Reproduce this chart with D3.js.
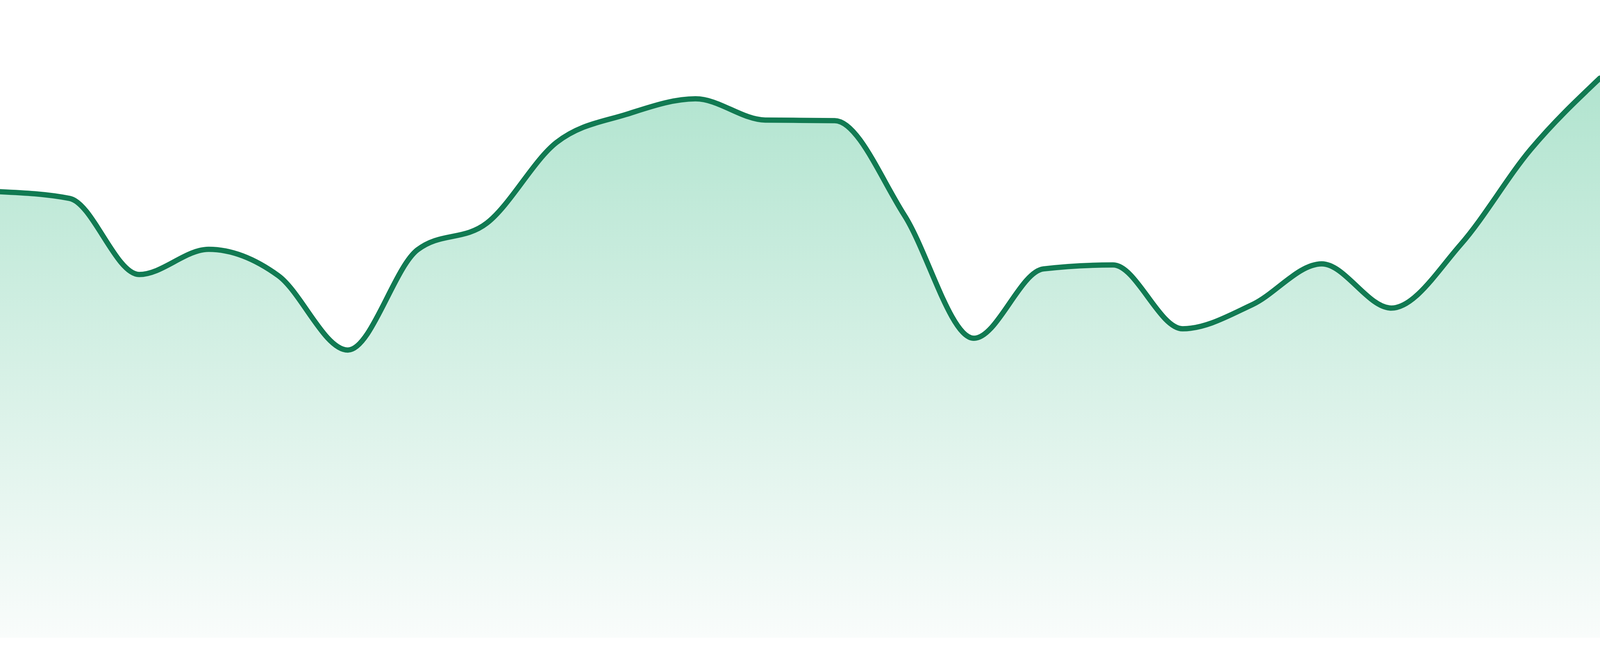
<!DOCTYPE html>
<html>
<head>
<meta charset="utf-8">
<script src="https://cdn.jsdelivr.net/npm/d3@7"></script>
<style>
  html, body { margin: 0; padding: 0; background: #ffffff; overflow: hidden; width: 100%; height: 100%; }
  svg { display: block; position: absolute; left: 0; top: 0; }
</style>
</head>
<body>
<div id="chart"></div>
<script>
// ---- data ----
const categories = d3.range(24).map(i => "P" + (i + 1));
const values = [79.7, 78.5, 64.9, 69.4, 64.7, 51.4, 69.3, 74.1, 88.5, 93.5, 96.3, 92.5,
                92.4, 75.5, 53.5, 65.9, 66.6, 55.2, 59.5, 66.8, 58.9, 70.3, 87.2, 100];
const yDomain = [0, 100];

// ---- layout: design height 1680, width fitted to the viewport ----
const W = window.innerWidth || 4800;
const H = window.innerHeight || 1680;
const ky = H / 1680;
const plotBottom = 1633 * ky, plotTop = 200 * ky;

const svg = d3.select("#chart").append("svg")
  .attr("width", W).attr("height", H);

const x = d3.scalePoint().domain(categories).range([0, W]);
const y = d3.scaleLinear().domain(yDomain).range([plotBottom, plotTop]);

const data = categories.map((c, i) => ({ c, v: values[i] }));

const defs = svg.append("defs");
const grad = defs.append("linearGradient")
  .attr("id", "fillGrad")
  .attr("gradientUnits", "userSpaceOnUse")
  .attr("x1", 0).attr("x2", 0)
  .attr("y1", plotTop).attr("y2", plotBottom);
grad.append("stop").attr("offset", "0%").attr("stop-color", "#b1e4cf");
grad.append("stop").attr("offset", "100%").attr("stop-color", "#f9fcfb");

const area = d3.area()
  .curve(d3.curveMonotoneX)
  .x(d => x(d.c))
  .y0(plotBottom)
  .y1(d => y(d.v));

const line = d3.line()
  .curve(d3.curveMonotoneX)
  .x(d => x(d.c))
  .y(d => y(d.v));

svg.append("path")
  .datum(data)
  .attr("d", area)
  .attr("fill", "url(#fillGrad)");

svg.append("path")
  .datum(data)
  .attr("d", line)
  .attr("fill", "none")
  .attr("stroke", "#117a52")
  .attr("stroke-width", 13.5 * ky)
  .attr("stroke-linejoin", "round")
  .attr("stroke-linecap", "round");
</script>
</body>
</html>
